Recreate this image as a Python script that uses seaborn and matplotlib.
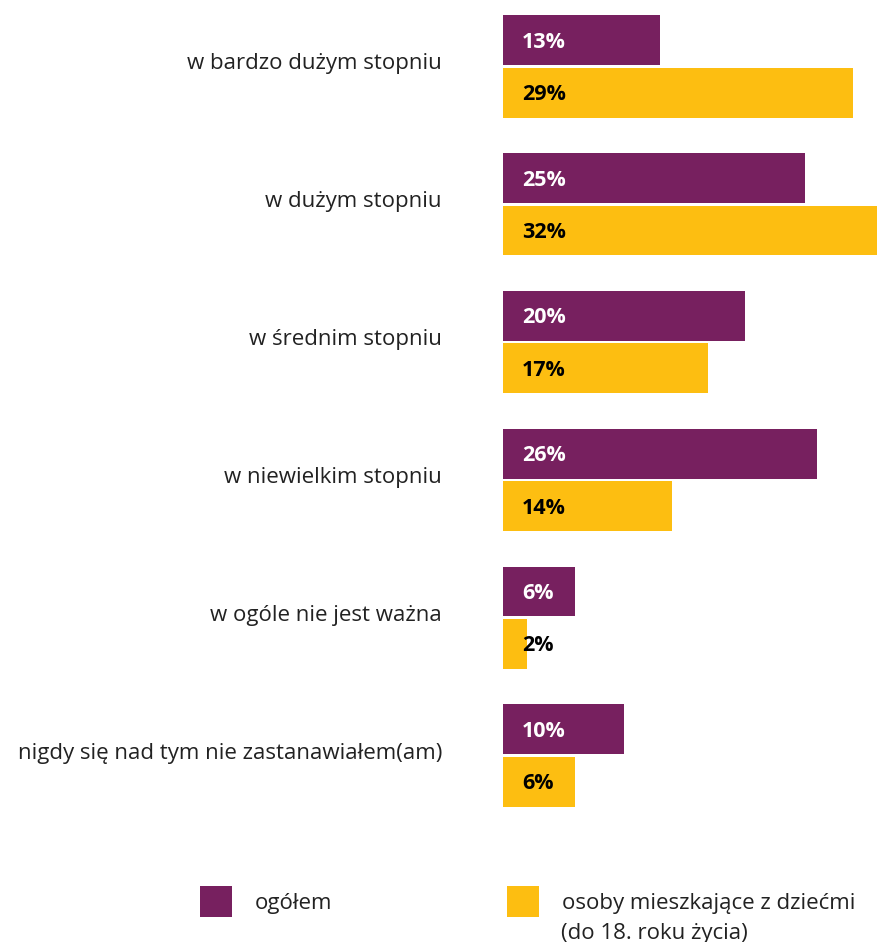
import matplotlib
matplotlib.use("Agg")
import matplotlib.pyplot as plt
from matplotlib.transforms import ScaledTranslation
import seaborn as sns
import pandas as pd

categories = [
    "w bardzo dużym stopniu",
    "w dużym stopniu",
    "w średnim stopniu",
    "w niewielkim stopniu",
    "w ogóle nie jest ważna",
    "nigdy się nad tym nie zastanawiałem(am)",
]
groups = ["ogółem", "osoby mieszkające z dziećmi"]
group_note = "(do 18. roku życia)"
ogolem = [13, 25, 20, 26, 6, 10]
z_dziecmi = [29, 32, 17, 14, 2, 6]

PURPLE = "#77205F"
YELLOW = "#FDBE11"
TEXT = "#222222"
FONT = "Open Sans"

df = pd.DataFrame({
    "kategoria": categories * 2,
    "grupa": [groups[0]] * len(categories) + [groups[1]] * len(categories),
    "wartosc": ogolem + z_dziecmi,
})

sns.set_theme(style="white")
plt.rcParams["font.family"] = [FONT, "DejaVu Sans"]

W, H = 878, 942
fig = plt.figure(figsize=(W / 100, H / 100), dpi=100)
ax = fig.add_axes([503 / W, (H - 808) / H, 375 / W, (808 - 14) / H])

sns.barplot(
    data=df, y="kategoria", x="wartosc", hue="grupa", orient="h",
    palette=[PURPLE, YELLOW], width=0.761, gap=0.048, saturation=1,
    linewidth=0, ax=ax, legend=True,
)

half = 0.761 / 2
ax.set_ylim(len(categories) - 1 + half, -half)
ax.set_xlim(0, 31.05)
for s in ax.spines.values():
    s.set_visible(False)
ax.set_xticks([])
ax.set_xlabel("")
ax.set_ylabel("")
ax.tick_params(axis="y", length=0, pad=44, labelsize=16, labelcolor=TEXT)
# lift category labels a little above the pair's centre
lift = ScaledTranslation(0, 5 / 100, fig.dpi_scale_trans)
for lab in ax.get_yticklabels():
    lab.set_transform(lab.get_transform() + lift)

# value labels inside the bars
label_colors = ["white", "black"]
for cont, color in zip(ax.containers, label_colors):
    for bar, val in zip(cont, cont.datavalues):
        yc = bar.get_y() + bar.get_height() / 2
        ax.annotate(f"{val:.0f}%", xy=(0, yc), xytext=(19, -2),
                    textcoords="offset pixels", va="center", ha="left",
                    fontsize=15.5, fontweight="bold", color=color,
                    annotation_clip=False)

handles, _ = ax.get_legend_handles_labels()
ax.get_legend().remove()
leg_kw = dict(loc="upper left", frameon=False, borderpad=0, borderaxespad=0,
              handlelength=1.42, handleheight=1.75, handletextpad=1.05,
              fontsize=16, labelcolor=TEXT)
leg1 = fig.legend([handles[0]], [groups[0]],
                  bbox_to_anchor=(200 / W, 1 - 886 / H), **leg_kw)
leg2 = fig.legend([handles[1]], [groups[1]],
                  bbox_to_anchor=(507 / W, 1 - 886 / H), **leg_kw)
fig.text(561 / W, 1 - 933 / H, group_note, fontsize=16, color=TEXT,
         ha="left", va="center")

fig.savefig("out.png", dpi=100, facecolor="white")
